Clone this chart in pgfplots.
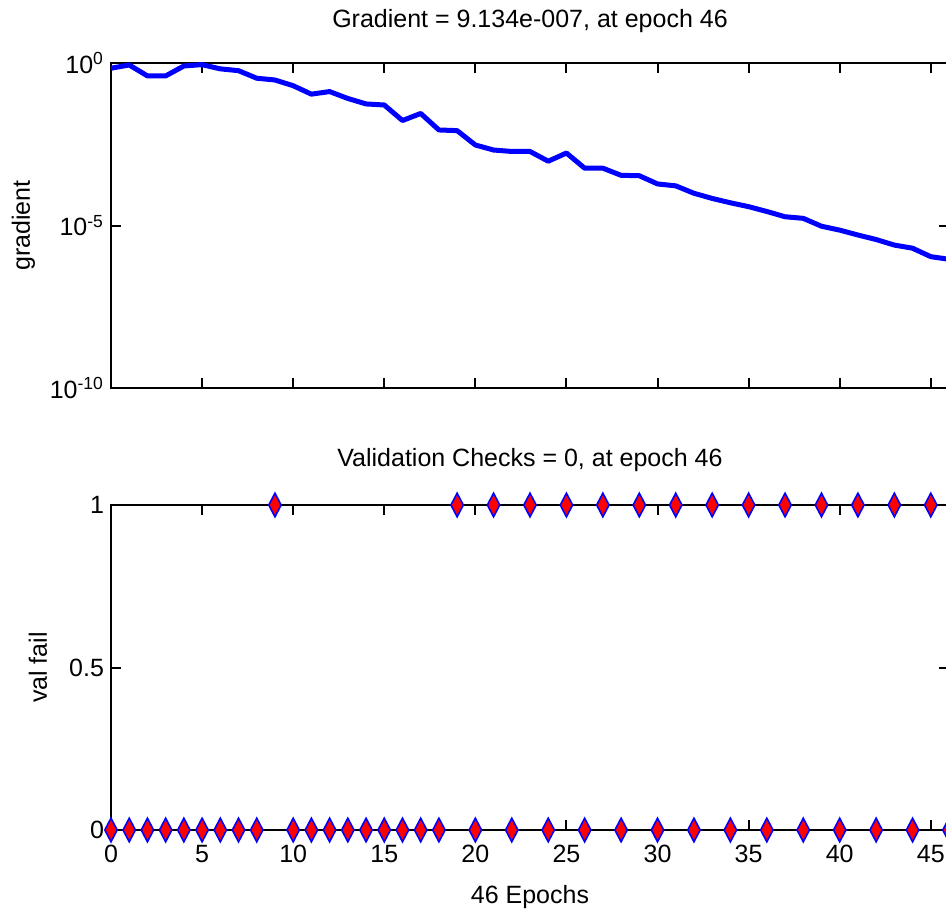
\documentclass[border=0pt]{standalone}
\usepackage{fontspec}
\setmainfont{Liberation Sans}
\usepackage{pgfplots}
\pgfplotsset{compat=1.18}
\begin{document}
\begin{tikzpicture}
\path[use as bounding box] (-55.5pt,-40.5pt) rectangle (417.5pt,415pt);
\clip (-55.5pt,-40.5pt) rectangle (417.5pt,415pt);
\pgfplotsset{
  every axis/.append style={
    font=\fontsize{12.5}{15}\selectfont,
    scale only axis, width=419pt, height=162.5pt,
    xmin=0, xmax=46,
    xtick={0,5,...,45},
    tick align=inside,
    major tick length=5pt,
    axis line style={line width=1pt},
    every tick/.style={black, line width=1pt},
    /pgf/number format/assume math mode=true,
    clip=false,
    title style={at={(0.5,1)}, anchor=base},
    yticklabel style={anchor=east},
  }
}
% ---------- lower axis: validation checks ----------
\begin{axis}[
  at={(0,0)}, anchor=south west,
  ymin=0, ymax=1,
  ytick={0,0.5,1},
  yticklabels={0,0.5,1},
  xticklabel style={anchor=base, yshift=-16pt},
  title={Validation Checks = 0, at epoch 46},
  title style={yshift=13.5pt},
  xlabel={46 Epochs},
  xlabel style={at={(axis description cs:0.5,0)}, anchor=base, yshift=-36.5pt},
  ylabel={val fail},
  ylabel style={at={(axis description cs:-0.0764,0.5)}, anchor=base},
]
\addplot[only marks, mark=diamond*, mark size=5.9pt,
  mark options={draw=blue, fill=red, line width=0.8pt, xscale=0.7}]
coordinates {
(0,0)(1,0)(2,0)(3,0)(4,0)(5,0)(6,0)(7,0)(8,0)(9,1)
(10,0)(11,0)(12,0)(13,0)(14,0)(15,0)(16,0)(17,0)(18,0)(19,1)
(20,0)(21,1)(22,0)(23,1)(24,0)(25,1)(26,0)(27,1)(28,0)(29,1)
(30,0)(31,1)(32,0)(33,1)(34,0)(35,1)(36,0)(37,1)(38,0)(39,1)
(40,0)(41,1)(42,0)(43,1)(44,0)(45,1)(46,0)
};
\end{axis}
% ---------- upper axis: gradient ----------
\begin{axis}[
  at={(0,221pt)}, anchor=south west,
  ymode=log,
  ymin=1e-10, ymax=1,
  ytick={1e-10,1e-5,1},
  yticklabels={10\textsuperscript{-10},10\textsuperscript{-5},10\textsuperscript{0}},
  minor ytick={},
  xticklabels={},
  title={Gradient = 9.134e-007, at epoch 46},
  title style={yshift=11.5pt},
  ylabel={gradient},
  ylabel style={at={(axis description cs:-0.0967,0.5)}, anchor=base},
]
\addplot[blue, line width=2.5pt, line join=round] coordinates {
(0,0.69)(1,0.87)(2,0.40)(3,0.40)(4,0.81)(5,0.89)(6,0.66)(7,0.58)
(8,0.34)(9,0.30)(10,0.20)(11,0.110)(12,0.132)(13,0.081)(14,0.055)
(15,0.051)(16,0.017)(17,0.028)(18,0.0087)(19,0.0083)(20,0.0030)
(21,0.0021)(22,0.0019)(23,0.0019)(24,0.00095)(25,0.0017)(26,0.00058)
(27,0.00058)(28,0.00035)(29,0.00034)(30,0.00019)(31,0.000166)
(32,0.000098)(33,0.000068)(34,0.000050)(35,0.000038)(36,0.000027)
(37,0.0000186)(38,0.0000166)(39,0.0000095)(40,0.0000072)
(41,0.0000051)(42,0.0000037)(43,0.0000025)(44,0.0000020)
(45,0.0000011)(46,0.0000009134)
};
\end{axis}
\end{tikzpicture}
\end{document}
